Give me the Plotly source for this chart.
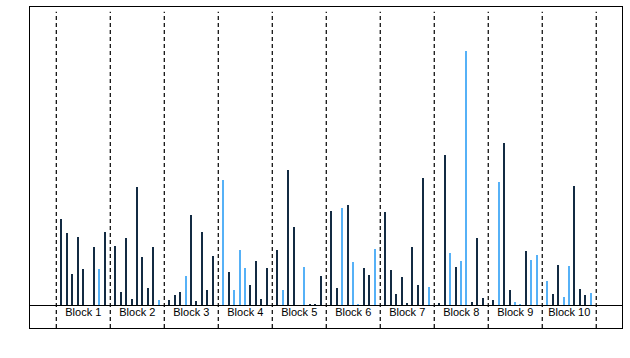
import plotly.graph_objects as go

block_labels = [f"Block {k}" for k in range(1, 11)]
items_per_block = 9

# heights of the 9 bars in each block
block1 = [86.5, 72.5, 31.5, 68.5, 36.8, 0, 58.5, 36.8, 73.5]
block2 = [59.5, 13.5, 67.5, 6.5, 118.8, 48.5, 17.5, 58.5, 5.5]
block3 = [5.5, 10.5, 13.5, 29.5, 90.5, 4.5, 73.5, 15.5, 49.5]
block4 = [125.5, 33.5, 15.5, 55.5, 37.5, 20.5, 44.5, 6.5, 37.5]
block5 = [55.5, 15.5, 135.5, 78.5, 0, 38.5, 1.5, 1.5, 29.5]
block6 = [94.5, 17.5, 97.5, 100.5, 43.5, 1.5, 37.5, 30.5, 56.5]
block7 = [93.5, 35.5, 11.5, 28.5, 2.5, 58.5, 20.5, 127.5, 18.5]
block8 = [2.5, 150.5, 52.5, 38.5, 44.5, 254.5, 3.5, 67.5, 7.5]
block9 = [5.5, 123.5, 162.5, 15.5, 3.5, 1.5, 54.5, 45.5, 50.5]
block10 = [24.5, 11.5, 40.5, 8.5, 39.5, 119.5, 16.5, 10.5, 12.5]

# group of each bar: 0 = dark, 1 = light
group1 = [0, 0, 0, 0, 0, 0, 0, 1, 0]
group2 = [0, 0, 0, 0, 0, 0, 0, 0, 1]
group3 = [0, 0, 0, 1, 0, 0, 0, 0, 0]
group4 = [1, 0, 1, 1, 1, 0, 0, 0, 0]
group5 = [0, 1, 0, 0, 0, 1, 0, 0, 0]
group6 = [0, 0, 1, 0, 1, 1, 0, 0, 1]
group7 = [0, 0, 0, 0, 0, 0, 0, 0, 1]
group8 = [0, 0, 1, 0, 1, 1, 0, 0, 0]
group9 = [0, 1, 0, 0, 1, 1, 0, 1, 1]
group10 = [1, 0, 0, 1, 1, 0, 0, 0, 1]

values = [block1, block2, block3, block4, block5, block6, block7, block8, block9, block10]
groups = [group1, group2, group3, group4, group5, group6, group7, group8, group9, group10]
palette = ["#132B43", "#56B1F7"]

xs, ys, cs = [], [], []
for b, (vals, grp) in enumerate(zip(values, groups)):
    for j, (v, g) in enumerate(zip(vals, grp)):
        xs.append(b * (items_per_block + 1) + j + 1)
        ys.append(v)
        cs.append(palette[g])

fig = go.Figure()
fig.add_trace(go.Bar(x=xs, y=ys, width=0.28, marker=dict(color=cs, line=dict(width=0)),
                     showlegend=False, hoverinfo="skip"))

centers = [b * (items_per_block + 1) + (items_per_block + 1) / 2 for b in range(len(block_labels))]
fig.add_trace(go.Scatter(x=centers, y=[-7.5] * len(centers), mode="text", text=block_labels,
                         textfont=dict(family="Liberation Sans, Arial", size=11, color="black"),
                         showlegend=False, hoverinfo="skip"))

shapes = []
for b in range(len(block_labels) + 1):
    xb = b * (items_per_block + 1)
    shapes.append(dict(type="line", xref="x", yref="paper", x0=xb, x1=xb, y0=0, y1=0.985,
                       line=dict(color="black", width=1.2, dash="4px,3px")))
shapes.append(dict(type="line", xref="paper", yref="y", x0=0, x1=1, y0=0, y1=0,
                   line=dict(color="black", width=1.2)))
fig.update_layout(shapes=shapes)

fig.update_layout(
    width=630, height=358,
    margin=dict(l=30, r=8, t=7, b=30),
    paper_bgcolor="white", plot_bgcolor="white",
    bargap=0,
    xaxis=dict(range=[-4.87, 104.77], showgrid=False, zeroline=False, showticklabels=False,
               ticks="", showline=True, mirror=True, linecolor="black", linewidth=1.2),
    yaxis=dict(range=[-22.5, 298.5], showgrid=False, zeroline=False, showticklabels=False,
               ticks="", showline=True, mirror=True, linecolor="black", linewidth=1.2),
)

fig.write_html("out.html", config={"displayModeBar": False},
               post_script="document.body.style.margin='0';document.body.style.overflow='hidden';")
